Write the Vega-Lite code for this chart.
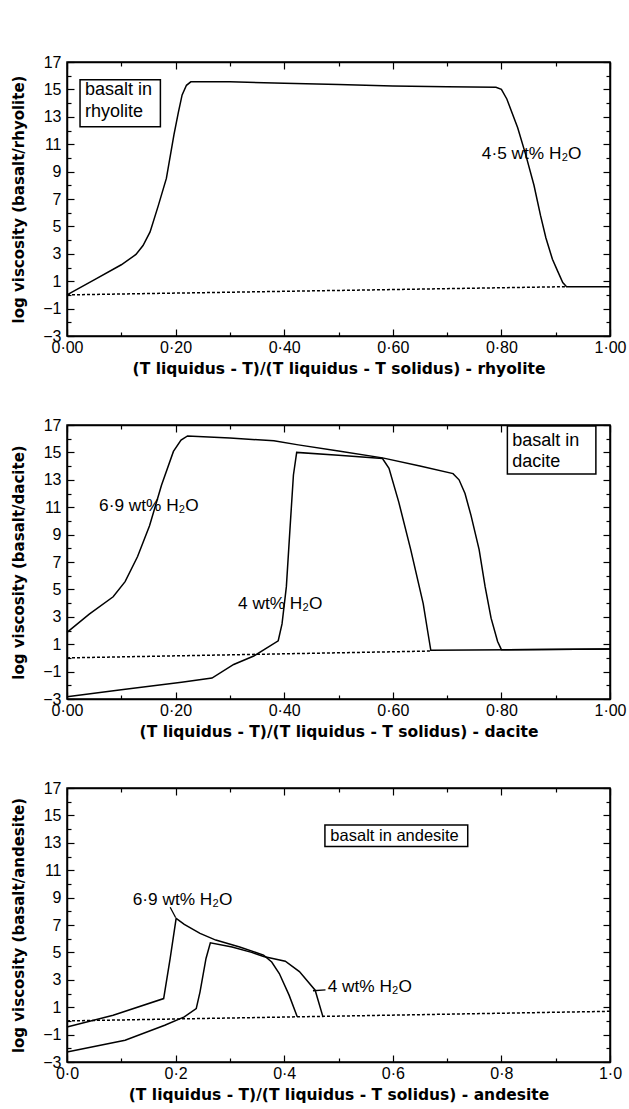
{
  "$schema": "https://vega.github.io/schema/vega-lite/v6.json",
  "background": "white",
  "padding": {"top": 53, "left": 11, "right": 0, "bottom": 0},
  "spacing": 38,
  "config": {
    "font": "Liberation Sans",
    "view": {"stroke": "black", "strokeWidth": 1.5},
    "axis": {
      "grid": false,
      "domainColor": "black",
      "domainWidth": 1.5,
      "tickColor": "black",
      "tickWidth": 1.2,
      "labelColor": "black",
      "titleColor": "black",
      "labelFont": "Liberation Sans",
      "titleFont": "DejaVu Sans",
      "labelFontSize": 16,
      "titleFontWeight": "bold",
      "labelFlush": false,
      "labelOverlap": false
    },
    "axisX": {"titleFontSize": 15.5, "labelPadding": 10, "titlePadding": 3},
    "axisY": {"titleFontSize": 15, "labelPadding": 13, "titlePadding": 16},
    "text": {"font": "Liberation Sans", "color": "black", "align": "left", "baseline": "middle"}
  },
  "datasets": {
    "rhy_curve": [
      {"series": "4.5 wt%", "x": 0, "y": 0},
      {"series": "4.5 wt%", "x": 0.05, "y": 1.1},
      {"series": "4.5 wt%", "x": 0.1, "y": 2.2},
      {"series": "4.5 wt%", "x": 0.127, "y": 2.95},
      {"series": "4.5 wt%", "x": 0.14, "y": 3.6},
      {"series": "4.5 wt%", "x": 0.153, "y": 4.6},
      {"series": "4.5 wt%", "x": 0.168, "y": 6.5},
      {"series": "4.5 wt%", "x": 0.183, "y": 8.5},
      {"series": "4.5 wt%", "x": 0.197, "y": 11.7},
      {"series": "4.5 wt%", "x": 0.205, "y": 13.3},
      {"series": "4.5 wt%", "x": 0.212, "y": 14.6},
      {"series": "4.5 wt%", "x": 0.22, "y": 15.3},
      {"series": "4.5 wt%", "x": 0.228, "y": 15.55},
      {"series": "4.5 wt%", "x": 0.3, "y": 15.55},
      {"series": "4.5 wt%", "x": 0.4, "y": 15.45},
      {"series": "4.5 wt%", "x": 0.5, "y": 15.35},
      {"series": "4.5 wt%", "x": 0.6, "y": 15.25},
      {"series": "4.5 wt%", "x": 0.7, "y": 15.2},
      {"series": "4.5 wt%", "x": 0.79, "y": 15.15},
      {"series": "4.5 wt%", "x": 0.8, "y": 15.0},
      {"series": "4.5 wt%", "x": 0.81, "y": 14.3},
      {"series": "4.5 wt%", "x": 0.83, "y": 12.2},
      {"series": "4.5 wt%", "x": 0.845, "y": 10.2},
      {"series": "4.5 wt%", "x": 0.86, "y": 8.0},
      {"series": "4.5 wt%", "x": 0.872, "y": 5.8},
      {"series": "4.5 wt%", "x": 0.882, "y": 4.15},
      {"series": "4.5 wt%", "x": 0.894, "y": 2.6},
      {"series": "4.5 wt%", "x": 0.904, "y": 1.7},
      {"series": "4.5 wt%", "x": 0.913, "y": 0.9},
      {"series": "4.5 wt%", "x": 0.92, "y": 0.6},
      {"series": "4.5 wt%", "x": 1.0, "y": 0.6}
    ],
    "rhy_dash": [{"x": 0, "y": 0}, {"x": 0.92, "y": 0.6}],
    "rhy_box": [{"x": 0.024, "x2": 0.172, "y": 15.7, "y2": 12.27}],
    "rhy_text": [
      {"x": 0.764, "y": 10.3, "label": "4·5 wt% H₂O", "size": "mid"},
      {"x": 0.033, "y": 14.96, "label": "basalt in", "size": "big"},
      {"x": 0.033, "y": 13.36, "label": "rhyolite", "size": "big"}
    ],
    "dac_curve": [
      {"series": "6.9 wt%", "x": 0, "y": 1.86},
      {"series": "6.9 wt%", "x": 0.041, "y": 3.2},
      {"series": "6.9 wt%", "x": 0.085, "y": 4.46},
      {"series": "6.9 wt%", "x": 0.107, "y": 5.57},
      {"series": "6.9 wt%", "x": 0.13, "y": 7.4},
      {"series": "6.9 wt%", "x": 0.152, "y": 9.64},
      {"series": "6.9 wt%", "x": 0.174, "y": 12.6},
      {"series": "6.9 wt%", "x": 0.196, "y": 15.07},
      {"series": "6.9 wt%", "x": 0.21, "y": 15.9},
      {"series": "6.9 wt%", "x": 0.222, "y": 16.2},
      {"series": "6.9 wt%", "x": 0.3, "y": 16.05},
      {"series": "6.9 wt%", "x": 0.381, "y": 15.85},
      {"series": "6.9 wt%", "x": 0.426, "y": 15.55},
      {"series": "6.9 wt%", "x": 0.5, "y": 15.1},
      {"series": "6.9 wt%", "x": 0.581, "y": 14.6},
      {"series": "6.9 wt%", "x": 0.65, "y": 14.0},
      {"series": "6.9 wt%", "x": 0.711, "y": 13.45},
      {"series": "6.9 wt%", "x": 0.722, "y": 13.0},
      {"series": "6.9 wt%", "x": 0.733, "y": 12.0},
      {"series": "6.9 wt%", "x": 0.744, "y": 10.4},
      {"series": "6.9 wt%", "x": 0.759, "y": 7.9},
      {"series": "6.9 wt%", "x": 0.77, "y": 5.2},
      {"series": "6.9 wt%", "x": 0.781, "y": 2.9},
      {"series": "6.9 wt%", "x": 0.793, "y": 1.2},
      {"series": "6.9 wt%", "x": 0.8, "y": 0.6},
      {"series": "6.9 wt%", "x": 1.0, "y": 0.65},
      {"series": "4 wt%", "x": 0, "y": -2.83},
      {"series": "4 wt%", "x": 0.1, "y": -2.33},
      {"series": "4 wt%", "x": 0.211, "y": -1.77},
      {"series": "4 wt%", "x": 0.267, "y": -1.47},
      {"series": "4 wt%", "x": 0.307, "y": -0.48},
      {"series": "4 wt%", "x": 0.344, "y": 0.14},
      {"series": "4 wt%", "x": 0.389, "y": 1.25},
      {"series": "4 wt%", "x": 0.396, "y": 2.48},
      {"series": "4 wt%", "x": 0.404, "y": 5.2},
      {"series": "4 wt%", "x": 0.411, "y": 9.64},
      {"series": "4 wt%", "x": 0.417, "y": 13.35},
      {"series": "4 wt%", "x": 0.423, "y": 15.0},
      {"series": "4 wt%", "x": 0.5, "y": 14.8},
      {"series": "4 wt%", "x": 0.581, "y": 14.55},
      {"series": "4 wt%", "x": 0.593, "y": 13.84},
      {"series": "4 wt%", "x": 0.611, "y": 11.37},
      {"series": "4 wt%", "x": 0.633, "y": 7.9},
      {"series": "4 wt%", "x": 0.656, "y": 3.96},
      {"series": "4 wt%", "x": 0.664, "y": 2.0},
      {"series": "4 wt%", "x": 0.67, "y": 0.55},
      {"series": "4 wt%", "x": 1.0, "y": 0.65}
    ],
    "dac_dash": [{"x": 0, "y": 0}, {"x": 0.67, "y": 0.5}],
    "dac_box": [{"x": 0.811, "x2": 0.974, "y": 16.93, "y2": 13.42}],
    "dac_text": [
      {"x": 0.059, "y": 11.1, "label": "6·9 wt% H₂O", "size": "mid"},
      {"x": 0.315, "y": 3.96, "label": "4 wt% H₂O", "size": "mid"},
      {"x": 0.82, "y": 15.8, "label": "basalt in", "size": "big"},
      {"x": 0.82, "y": 14.3, "label": "dacite", "size": "big"}
    ],
    "and_curve": [
      {"series": "6.9 wt%", "x": 0, "y": -0.44},
      {"series": "6.9 wt%", "x": 0.085, "y": 0.41},
      {"series": "6.9 wt%", "x": 0.178, "y": 1.63},
      {"series": "6.9 wt%", "x": 0.19, "y": 4.56},
      {"series": "6.9 wt%", "x": 0.201, "y": 7.49},
      {"series": "6.9 wt%", "x": 0.216, "y": 7.05},
      {"series": "6.9 wt%", "x": 0.245, "y": 6.39},
      {"series": "6.9 wt%", "x": 0.274, "y": 5.9},
      {"series": "6.9 wt%", "x": 0.318, "y": 5.4},
      {"series": "6.9 wt%", "x": 0.362, "y": 4.8},
      {"series": "6.9 wt%", "x": 0.377, "y": 4.3},
      {"series": "6.9 wt%", "x": 0.391, "y": 3.46},
      {"series": "6.9 wt%", "x": 0.409, "y": 1.88},
      {"series": "6.9 wt%", "x": 0.424, "y": 0.3},
      {"series": "4 wt%", "x": 0, "y": -2.27},
      {"series": "4 wt%", "x": 0.107, "y": -1.41},
      {"series": "4 wt%", "x": 0.18, "y": -0.32},
      {"series": "4 wt%", "x": 0.216, "y": 0.29},
      {"series": "4 wt%", "x": 0.238, "y": 0.9},
      {"series": "4 wt%", "x": 0.245, "y": 2.12},
      {"series": "4 wt%", "x": 0.256, "y": 4.56},
      {"series": "4 wt%", "x": 0.264, "y": 5.7},
      {"series": "4 wt%", "x": 0.304, "y": 5.4},
      {"series": "4 wt%", "x": 0.34, "y": 5.0},
      {"series": "4 wt%", "x": 0.362, "y": 4.7},
      {"series": "4 wt%", "x": 0.402, "y": 4.36},
      {"series": "4 wt%", "x": 0.428, "y": 3.6},
      {"series": "4 wt%", "x": 0.457, "y": 2.24},
      {"series": "4 wt%", "x": 0.471, "y": 0.35}
    ],
    "and_dash": [{"x": 0, "y": 0}, {"x": 1, "y": 0.7}],
    "and_box": [{"x": 0.475, "x2": 0.738, "y": 14.3, "y2": 12.73}],
    "and_leader": [
      {"x": 0.19, "y": 8.3, "x2": 0.2, "y2": 7.55},
      {"x": 0.453, "y": 2.2, "x2": 0.476, "y2": 2.27}
    ],
    "and_text": [
      {"x": 0.121, "y": 8.8, "label": "6·9 wt% H₂O", "size": "mid"},
      {"x": 0.48, "y": 2.5, "label": "4 wt% H₂O", "size": "mid"},
      {"x": 0.485, "y": 13.5, "label": "basalt in andesite", "size": "small"}
    ]
  },
  "vconcat": [
    {
      "width": 543, "height": 274,
      "resolve": {"axis": {"x": "independent", "y": "independent"}},
      "layer": [
        {
          "data": {"name": "rhy_box"},
          "mark": {"type": "rect", "fill": "white", "stroke": "black", "strokeWidth": 1.5},
          "encoding": {
            "x": {"field": "x", "type": "quantitative", "scale": {"domain": [0, 1], "nice": false, "zero": false}, "axis": null},
            "x2": {"field": "x2"},
            "y": {"field": "y", "type": "quantitative", "scale": {"domain": [-3, 17], "nice": false, "zero": false}, "axis": null},
            "y2": {"field": "y2"}
          }
        },
        {
          "data": {"name": "rhy_curve"},
          "mark": {"type": "line", "color": "black", "strokeWidth": 1.5},
          "encoding": {
            "x": {"field": "x", "type": "quantitative", "scale": {"domain": [0, 1], "nice": false, "zero": false},
              "axis": {"orient": "bottom", "title": "(T liquidus - T)/(T liquidus - T solidus) - rhyolite",
                "values": [0, 0.1, 0.2, 0.3, 0.4, 0.5, 0.6, 0.7, 0.8, 0.9, 1.0],
                "labelExpr": "round(datum.value*10) % 2 == 0 ? replace(format(datum.value, '.2f'), '.', '·') : ''",
                "tickSize": {"condition": {"test": "round(datum.value*10) % 2 == 0", "value": -7}, "value": -4}}},
            "y": {"field": "y", "type": "quantitative", "scale": {"domain": [-3, 17], "nice": false, "zero": false},
              "axis": {"orient": "left", "title": "log viscosity (basalt/rhyolite)",
                "values": [-3, -2, -1, 0, 1, 2, 3, 4, 5, 6, 7, 8, 9, 10, 11, 12, 13, 14, 15, 16, 17],
                "labelExpr": "datum.value % 2 != 0 ? datum.label : ''",
                "tickSize": {"condition": {"test": "datum.value % 2 != 0", "value": -7}, "value": -4}}},
            "detail": {"field": "series", "type": "nominal"}
          }
        },
        {
          "data": {"name": "rhy_dash"},
          "mark": {"type": "line", "color": "black", "strokeWidth": 1.5, "strokeDash": [3, 2]},
          "encoding": {
            "x": {"field": "x", "type": "quantitative", "scale": {"domain": [0, 1], "nice": false, "zero": false},
              "axis": {"orient": "top", "title": null, "labels": false,
                "values": [0, 0.1, 0.2, 0.3, 0.4, 0.5, 0.6, 0.7, 0.8, 0.9, 1.0],
                "tickSize": {"condition": {"test": "round(datum.value*10) % 2 == 0", "value": -7}, "value": -4}}},
            "y": {"field": "y", "type": "quantitative", "scale": {"domain": [-3, 17], "nice": false, "zero": false},
              "axis": {"orient": "right", "title": null, "labels": false,
                "values": [-3, -2, -1, 0, 1, 2, 3, 4, 5, 6, 7, 8, 9, 10, 11, 12, 13, 14, 15, 16, 17],
                "tickSize": {"condition": {"test": "datum.value % 2 != 0", "value": -7}, "value": -4}}}
          }
        },
        {
          "data": {"name": "rhy_text"},
          "mark": {"type": "text"},
          "encoding": {
            "x": {"field": "x", "type": "quantitative", "scale": {"domain": [0, 1], "nice": false, "zero": false}, "axis": null},
            "y": {"field": "y", "type": "quantitative", "scale": {"domain": [-3, 17], "nice": false, "zero": false}, "axis": null},
            "text": {"field": "label"},
            "size": {"field": "size", "type": "nominal", "scale": {"domain": ["big", "mid", "small"], "range": [18, 16.5, 17]}, "legend": null}
          }
        }
      ]
    },
    {
      "width": 543, "height": 274,
      "resolve": {"axis": {"x": "independent", "y": "independent"}},
      "layer": [
        {
          "data": {"name": "dac_box"},
          "mark": {"type": "rect", "fill": "white", "stroke": "black", "strokeWidth": 1.5},
          "encoding": {
            "x": {"field": "x", "type": "quantitative", "scale": {"domain": [0, 1], "nice": false, "zero": false}, "axis": null},
            "x2": {"field": "x2"},
            "y": {"field": "y", "type": "quantitative", "scale": {"domain": [-3, 17], "nice": false, "zero": false}, "axis": null},
            "y2": {"field": "y2"}
          }
        },
        {
          "data": {"name": "dac_curve"},
          "mark": {"type": "line", "color": "black", "strokeWidth": 1.5},
          "encoding": {
            "x": {"field": "x", "type": "quantitative", "scale": {"domain": [0, 1], "nice": false, "zero": false},
              "axis": {"orient": "bottom", "title": "(T liquidus - T)/(T liquidus - T solidus) - dacite",
                "values": [0, 0.1, 0.2, 0.3, 0.4, 0.5, 0.6, 0.7, 0.8, 0.9, 1.0],
                "labelExpr": "round(datum.value*10) % 2 == 0 ? replace(format(datum.value, '.2f'), '.', '·') : ''",
                "tickSize": {"condition": {"test": "round(datum.value*10) % 2 == 0", "value": -7}, "value": -4}}},
            "y": {"field": "y", "type": "quantitative", "scale": {"domain": [-3, 17], "nice": false, "zero": false},
              "axis": {"orient": "left", "title": "log viscosity (basalt/dacite)",
                "values": [-3, -2, -1, 0, 1, 2, 3, 4, 5, 6, 7, 8, 9, 10, 11, 12, 13, 14, 15, 16, 17],
                "labelExpr": "datum.value % 2 != 0 ? datum.label : ''",
                "tickSize": {"condition": {"test": "datum.value % 2 != 0", "value": -7}, "value": -4}}},
            "detail": {"field": "series", "type": "nominal"}
          }
        },
        {
          "data": {"name": "dac_dash"},
          "mark": {"type": "line", "color": "black", "strokeWidth": 1.5, "strokeDash": [3, 2]},
          "encoding": {
            "x": {"field": "x", "type": "quantitative", "scale": {"domain": [0, 1], "nice": false, "zero": false},
              "axis": {"orient": "top", "title": null, "labels": false,
                "values": [0, 0.1, 0.2, 0.3, 0.4, 0.5, 0.6, 0.7, 0.8, 0.9, 1.0],
                "tickSize": {"condition": {"test": "round(datum.value*10) % 2 == 0", "value": -7}, "value": -4}}},
            "y": {"field": "y", "type": "quantitative", "scale": {"domain": [-3, 17], "nice": false, "zero": false},
              "axis": {"orient": "right", "title": null, "labels": false,
                "values": [-3, -2, -1, 0, 1, 2, 3, 4, 5, 6, 7, 8, 9, 10, 11, 12, 13, 14, 15, 16, 17],
                "tickSize": {"condition": {"test": "datum.value % 2 != 0", "value": -7}, "value": -4}}}
          }
        },
        {
          "data": {"name": "dac_text"},
          "mark": {"type": "text"},
          "encoding": {
            "x": {"field": "x", "type": "quantitative", "scale": {"domain": [0, 1], "nice": false, "zero": false}, "axis": null},
            "y": {"field": "y", "type": "quantitative", "scale": {"domain": [-3, 17], "nice": false, "zero": false}, "axis": null},
            "text": {"field": "label"},
            "size": {"field": "size", "type": "nominal", "scale": {"domain": ["big", "mid", "small"], "range": [18, 17, 17]}, "legend": null}
          }
        }
      ]
    },
    {
      "width": 543, "height": 274,
      "resolve": {"axis": {"x": "independent", "y": "independent"}},
      "layer": [
        {
          "data": {"name": "and_box"},
          "mark": {"type": "rect", "fill": "white", "stroke": "black", "strokeWidth": 1.5},
          "encoding": {
            "x": {"field": "x", "type": "quantitative", "scale": {"domain": [0, 1], "nice": false, "zero": false}, "axis": null},
            "x2": {"field": "x2"},
            "y": {"field": "y", "type": "quantitative", "scale": {"domain": [-3, 17], "nice": false, "zero": false}, "axis": null},
            "y2": {"field": "y2"}
          }
        },
        {
          "data": {"name": "and_curve"},
          "mark": {"type": "line", "color": "black", "strokeWidth": 1.5},
          "encoding": {
            "x": {"field": "x", "type": "quantitative", "scale": {"domain": [0, 1], "nice": false, "zero": false},
              "axis": {"orient": "bottom", "title": "(T liquidus - T)/(T liquidus - T solidus) - andesite",
                "values": [0, 0.1, 0.2, 0.3, 0.4, 0.5, 0.6, 0.7, 0.8, 0.9, 1.0],
                "labelExpr": "round(datum.value*10) % 2 == 0 ? replace(format(datum.value, '.1f'), '.', '·') : ''",
                "tickSize": {"condition": {"test": "round(datum.value*10) % 2 == 0", "value": -7}, "value": -4}}},
            "y": {"field": "y", "type": "quantitative", "scale": {"domain": [-3, 17], "nice": false, "zero": false},
              "axis": {"orient": "left", "title": "log viscosity (basalt/andesite)",
                "values": [-3, -2, -1, 0, 1, 2, 3, 4, 5, 6, 7, 8, 9, 10, 11, 12, 13, 14, 15, 16, 17],
                "labelExpr": "datum.value % 2 != 0 ? datum.label : ''",
                "tickSize": {"condition": {"test": "datum.value % 2 != 0", "value": -7}, "value": -4}}},
            "detail": {"field": "series", "type": "nominal"}
          }
        },
        {
          "data": {"name": "and_dash"},
          "mark": {"type": "line", "color": "black", "strokeWidth": 1.5, "strokeDash": [3, 2]},
          "encoding": {
            "x": {"field": "x", "type": "quantitative", "scale": {"domain": [0, 1], "nice": false, "zero": false},
              "axis": {"orient": "top", "title": null, "labels": false,
                "values": [0, 0.1, 0.2, 0.3, 0.4, 0.5, 0.6, 0.7, 0.8, 0.9, 1.0],
                "tickSize": {"condition": {"test": "round(datum.value*10) % 2 == 0", "value": -7}, "value": -4}}},
            "y": {"field": "y", "type": "quantitative", "scale": {"domain": [-3, 17], "nice": false, "zero": false},
              "axis": {"orient": "right", "title": null, "labels": false,
                "values": [-3, -2, -1, 0, 1, 2, 3, 4, 5, 6, 7, 8, 9, 10, 11, 12, 13, 14, 15, 16, 17],
                "tickSize": {"condition": {"test": "datum.value % 2 != 0", "value": -7}, "value": -4}}}
          }
        },
        {
          "data": {"name": "and_leader"},
          "mark": {"type": "rule", "color": "black", "strokeWidth": 1.3},
          "encoding": {
            "x": {"field": "x", "type": "quantitative", "scale": {"domain": [0, 1], "nice": false, "zero": false}, "axis": null},
            "x2": {"field": "x2"},
            "y": {"field": "y", "type": "quantitative", "scale": {"domain": [-3, 17], "nice": false, "zero": false}, "axis": null},
            "y2": {"field": "y2"}
          }
        },
        {
          "data": {"name": "and_text"},
          "mark": {"type": "text"},
          "encoding": {
            "x": {"field": "x", "type": "quantitative", "scale": {"domain": [0, 1], "nice": false, "zero": false}, "axis": null},
            "y": {"field": "y", "type": "quantitative", "scale": {"domain": [-3, 17], "nice": false, "zero": false}, "axis": null},
            "text": {"field": "label"},
            "size": {"field": "size", "type": "nominal", "scale": {"domain": ["big", "mid", "small"], "range": [18, 17, 16.5]}, "legend": null}
          }
        }
      ]
    }
  ]
}
